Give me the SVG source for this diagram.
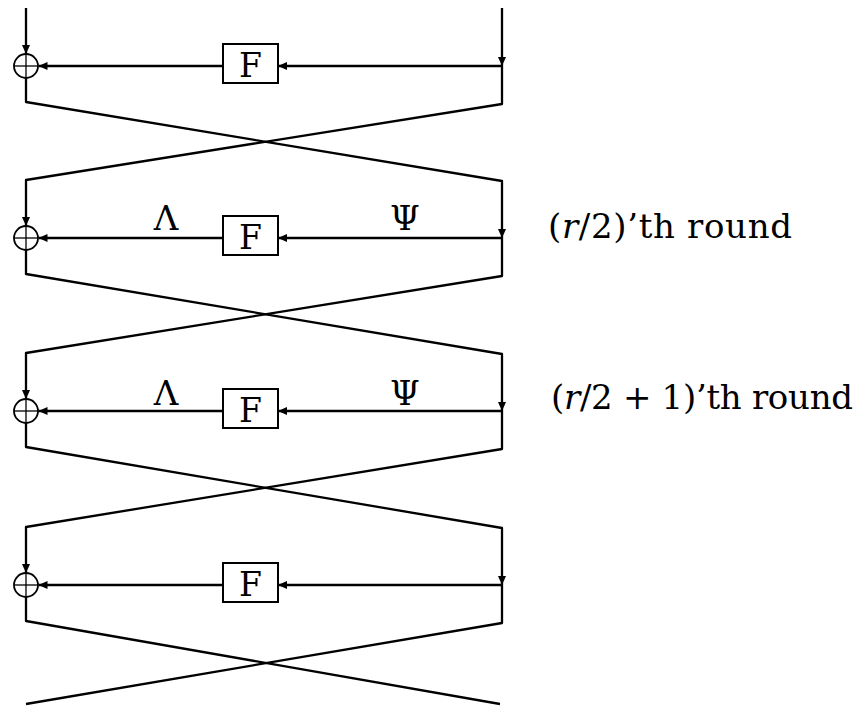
<svg xmlns="http://www.w3.org/2000/svg" width="861" height="706" viewBox="0 0 861 706">
  <style>
    .wire { fill: none; stroke: #000; stroke-width: 2.3; stroke-linejoin: round; }
    .xor { fill: #fff; stroke: #000; stroke-width: 1.8; }
    .xor-cross { stroke: #000; stroke-width: 1.3; }
    .fbox { fill: #fff; stroke: #000; stroke-width: 2; }
    .ftext { font-family: "DejaVu Serif", "Liberation Serif", serif; font-size: 33px; text-anchor: middle; fill: #000; }
    .greek { font-family: "DejaVu Serif", "Liberation Serif", serif; font-size: 34px; text-anchor: middle; fill: #000; }
    .label { font-family: "DejaVu Serif", "Liberation Serif", serif; font-size: 34px; fill: #000; }
  </style>
  <defs>
    <marker id="arrow" markerUnits="userSpaceOnUse" markerWidth="10" markerHeight="8" refX="9" refY="4" orient="auto">
      <path d="M0,0 L9,4 L0,8 z" fill="#000"/>
    </marker>
  </defs>
  <rect width="861" height="706" fill="#fff"/>

  <!-- connectors: inputs, feed lines and the crossing swaps between rounds -->
  <g id="connectors">
    <!-- inputs at the top -->
    <line class="wire" x1="26" y1="8" x2="26" y2="54" marker-end="url(#arrow)"/>
    <line class="wire" x1="502" y1="8" x2="502" y2="66" marker-end="url(#arrow)"/>

    <!-- round 1 (c = 66) -->
    <line class="wire" x1="502" y1="66" x2="278" y2="66" marker-end="url(#arrow)"/>
    <line class="wire" x1="223" y1="66" x2="38.5" y2="66" marker-end="url(#arrow)"/>
    <polyline class="wire" points="502,66 502,104 26,180 26,226" marker-end="url(#arrow)"/>
    <polyline class="wire" points="26,78 26,102 502,181 502,238" marker-end="url(#arrow)"/>

    <!-- round 2 (c = 238) -->
    <line class="wire" x1="502" y1="238" x2="278" y2="238" marker-end="url(#arrow)"/>
    <line class="wire" x1="223" y1="238" x2="38.5" y2="238" marker-end="url(#arrow)"/>
    <polyline class="wire" points="502,238 502,276 26,353 26,399" marker-end="url(#arrow)"/>
    <polyline class="wire" points="26,250 26,274 502,354 502,411" marker-end="url(#arrow)"/>

    <!-- round 3 (c = 411) -->
    <line class="wire" x1="502" y1="411" x2="278" y2="411" marker-end="url(#arrow)"/>
    <line class="wire" x1="223" y1="411" x2="38.5" y2="411" marker-end="url(#arrow)"/>
    <polyline class="wire" points="502,411 502,449 26,527 26,573" marker-end="url(#arrow)"/>
    <polyline class="wire" points="26,423 26,447 502,528 502,585" marker-end="url(#arrow)"/>

    <!-- round 4 (c = 585) and outputs -->
    <line class="wire" x1="502" y1="585" x2="278" y2="585" marker-end="url(#arrow)"/>
    <line class="wire" x1="223" y1="585" x2="38.5" y2="585" marker-end="url(#arrow)"/>
    <polyline class="wire" points="502,585 502,623 26,704"/>
    <polyline class="wire" points="26,597 26,621 500,704"/>
  </g>

  <!-- XOR nodes -->
  <g id="xor1">
    <circle class="xor" cx="26" cy="66" r="12"/>
    <line class="xor-cross" x1="14" y1="66" x2="38" y2="66"/>
    <line class="xor-cross" x1="26" y1="54" x2="26" y2="78"/>
  </g>
  <g id="xor2">
    <circle class="xor" cx="26" cy="238" r="12"/>
    <line class="xor-cross" x1="14" y1="238" x2="38" y2="238"/>
    <line class="xor-cross" x1="26" y1="226" x2="26" y2="250"/>
  </g>
  <g id="xor3">
    <circle class="xor" cx="26" cy="411" r="12"/>
    <line class="xor-cross" x1="14" y1="411" x2="38" y2="411"/>
    <line class="xor-cross" x1="26" y1="399" x2="26" y2="423"/>
  </g>
  <g id="xor4">
    <circle class="xor" cx="26" cy="585" r="12"/>
    <line class="xor-cross" x1="14" y1="585" x2="38" y2="585"/>
    <line class="xor-cross" x1="26" y1="573" x2="26" y2="597"/>
  </g>

  <!-- round functions -->
  <g id="f1">
    <rect class="fbox" x="223" y="44" width="55" height="39"/>
    <text class="ftext" x="250.5" y="77">F</text>
  </g>
  <g id="f2">
    <rect class="fbox" x="223" y="216" width="55" height="39"/>
    <text class="ftext" x="250.5" y="249">F</text>
  </g>
  <g id="f3">
    <rect class="fbox" x="223" y="389" width="55" height="39"/>
    <text class="ftext" x="250.5" y="422">F</text>
  </g>
  <g id="f4">
    <rect class="fbox" x="223" y="563" width="55" height="39"/>
    <text class="ftext" x="250.5" y="596">F</text>
  </g>

  <!-- wire labels -->
  <g id="labels-round2">
    <text class="greek" x="166" y="230">Λ</text>
    <text class="greek" x="405" y="230">Ψ</text>
  </g>
  <g id="labels-round3">
    <text class="greek" x="166" y="405">Λ</text>
    <text class="greek" x="405" y="405">Ψ</text>
  </g>

  <!-- round captions -->
  <g id="caption-round2">
    <text class="label" x="548" y="238" textLength="244" lengthAdjust="spacing">(<tspan font-style="italic">r</tspan>/2)’th round</text>
  </g>
  <g id="caption-round3">
    <text class="label" x="551" y="409" textLength="302" lengthAdjust="spacing">(<tspan font-style="italic">r</tspan>/2 + 1)’th round</text>
  </g>
</svg>
